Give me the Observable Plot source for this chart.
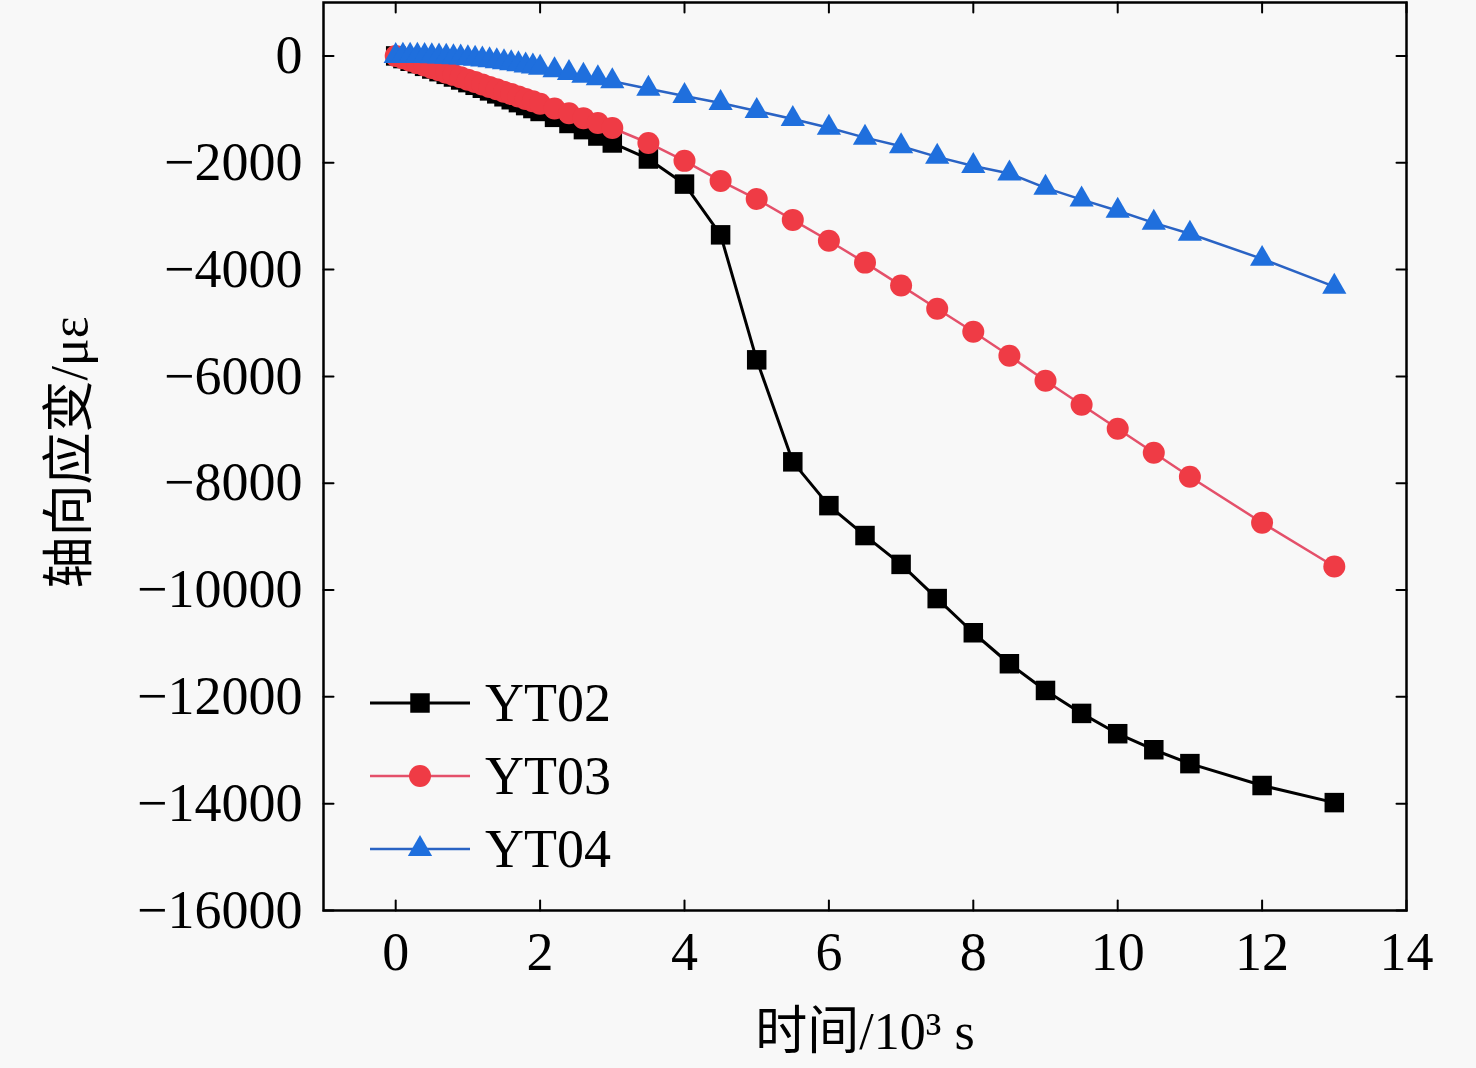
<!DOCTYPE html>
<html><head><meta charset="utf-8">
<script src="https://cdn.jsdelivr.net/npm/d3@7"></script>
<script src="https://cdn.jsdelivr.net/npm/@observablehq/plot@0.6"></script>
<style>
html,body{margin:0;padding:0;background:#f8f8f8;}
#wrap{position:relative;width:1476px;height:1068px;}
#legend{position:absolute;left:0;top:0;}
</style></head><body><div id="wrap"></div>
<script>
const times = [0,0.1,0.2,0.3,0.4,0.5,0.6,0.7,0.8,0.9,1.0,1.1,1.2,1.3,1.4,1.5,1.6,1.7,1.8,1.9,2.0,
  2.2,2.4,2.6,2.8,3.0,
  3.5,4,4.5,5,5.5,6,6.5,7,7.5,8,8.5,9,9.5,10,10.5,11,
  12,13];
const yt02 = [0,-50,-100,-145,-195,-245,-295,-345,-395,-450,-500,-550,-605,-655,-710,-765,-820,-875,-930,-985,-1040,
  -1150,-1265,-1380,-1500,-1630,
  -1930,-2400,-3350,-5690,-7600,-8420,-8980,-9520,-10160,-10800,-11380,-11880,-12310,-12690,-12990,-13250,
  -13660,-13980];
const yt03 = [0,-45,-90,-135,-180,-225,-270,-315,-355,-400,-445,-490,-535,-580,-625,-670,-715,-760,-805,-850,-895,
  -985,-1075,-1165,-1255,-1350,
  -1630,-1965,-2340,-2680,-3070,-3460,-3870,-4300,-4735,-5165,-5615,-6080,-6530,-6980,-7430,-7880,
  -8740,-9560];
const yt04 = [0,5,5,5,0,-5,-10,-16,-23,-32,-42,-54,-67,-81,-98,-118,-137,-157,-178,-200,-222,
  -270,-320,-370,-420,-475,
  -615,-750,-880,-1030,-1180,-1345,-1530,-1690,-1890,-2060,-2200,-2470,-2690,-2900,-3125,-3330,
  -3800,-4320];
const seriesNames = ["YT02","YT03","YT04"];
const xTicks = [0,2,4,6,8,10,12,14];
const yTicks = [0,-2000,-4000,-6000,-8000,-10000,-12000,-14000,-16000];
const xLabel = "时间/10³ s";
const yLabel = "轴向应变/με";

const values = {YT02: yt02, YT03: yt03, YT04: yt04};
const styles = {
  YT02: {line:"#000000", fill:"#000000", symbol:"square", r:11, sw:3},
  YT03: {line:"#e4506a", fill:"#ef3b45", symbol:"circle", r:11, sw:2.5},
  YT04: {line:"#2a63c4", fill:"#1f6fdd", symbol:"triangle", r:9, sw:2.5}
};
const rows = seriesNames.flatMap(s => times.map((t,i)=>({series:s, t, v: values[s][i]})));

const serif = "'Liberation Serif', 'Times New Roman', serif";
const mixed = "'Liberation Serif', 'Noto Sans CJK SC', serif";
const fmt = d => d < 0 ? "\u2212" + Math.abs(d) : String(d);
const tickShape = {draw(ctx, l){ ctx.moveTo(0,0); ctx.lineTo(0,-l); }};

const marks = [];
for (const s of seriesNames) {
  const st = styles[s];
  const data = rows.filter(d => d.series === s);
  marks.push(Plot.line(data, {x:"t", y:"v", stroke: st.line, strokeWidth: st.sw}));
  marks.push(Plot.dot(data, {x:"t", y:"v", symbol: st.symbol, r: st.r, fill: st.fill, stroke: "none"}));
}

const chart = Plot.plot({
  width: 1476, height: 1068,
  marginTop: 2, marginRight: 70, marginBottom: 158, marginLeft: 323,
  style: {background: "#f8f8f8", color: "black"},
  x: {domain: [-1, 14], ticks: xTicks},
  y: {domain: [-16000, 1000], ticks: yTicks},
  marks: [
    ...marks,
    Plot.frame({stroke: "black", strokeWidth: 2.5}),
    Plot.vector(yTicks, {y: d=>d, frameAnchor:"left", length:10, rotate:90, anchor:"start", shape:tickShape, stroke:"black", strokeWidth:2}),
    Plot.vector(yTicks, {y: d=>d, frameAnchor:"right", length:10, rotate:-90, anchor:"start", shape:tickShape, stroke:"black", strokeWidth:2}),
    Plot.vector(xTicks, {x: d=>d, frameAnchor:"bottom", length:10, rotate:0, anchor:"start", shape:tickShape, stroke:"black", strokeWidth:2}),
    Plot.vector(xTicks, {x: d=>d, frameAnchor:"top", length:10, rotate:180, anchor:"start", shape:tickShape, stroke:"black", strokeWidth:2}),
    Plot.axisX(xTicks, {anchor:"bottom", tickSize:0, tickPadding:21, fontSize:54, fontFamily:serif, tickFormat:fmt, label:null}),
    Plot.axisY(yTicks, {anchor:"left", tickSize:0, tickPadding:21, fontSize:54, fontFamily:serif, tickFormat:fmt, label:null}),
    Plot.text([xLabel], {text: d=>d, frameAnchor:"bottom", dy:122, textAnchor:"middle", lineAnchor:"middle", fontSize:52, fontFamily:mixed, fill:"black"}),
    Plot.text([yLabel], {text: d=>d, frameAnchor:"left", dx:-253, dy:-4, textAnchor:"middle", lineAnchor:"middle", rotate:-90, fontSize:52, fontFamily:mixed, fill:"black"})
  ]
});
document.getElementById("wrap").appendChild(chart);

// legend overlay
const leg = d3.select("#wrap").append("svg").attr("id","legend").attr("width",1476).attr("height",1068);
const rowY = [703, 776, 849];
seriesNames.forEach((s, i) => {
  const st = styles[s];
  const g = leg.append("g").attr("transform", `translate(0,${rowY[i]})`);
  g.append("line").attr("x1",370).attr("x2",470).attr("y1",0).attr("y2",0).attr("stroke",st.line).attr("stroke-width",st.sw);
  if (st.symbol === "circle") {
    g.append("circle").attr("cx",420).attr("cy",0).attr("r",st.r).attr("fill",st.fill);
  } else {
    const sym = st.symbol === "square" ? d3.symbolSquare : d3.symbolTriangle;
    g.append("path").attr("transform","translate(420,0)").attr("d", d3.symbol(sym, Math.PI*st.r*st.r)()).attr("fill",st.fill);
  }
  g.append("text").attr("x",485).attr("y",18).attr("font-family",serif).attr("font-size",54).attr("fill","black").text(s);
});
</script></body></html>
